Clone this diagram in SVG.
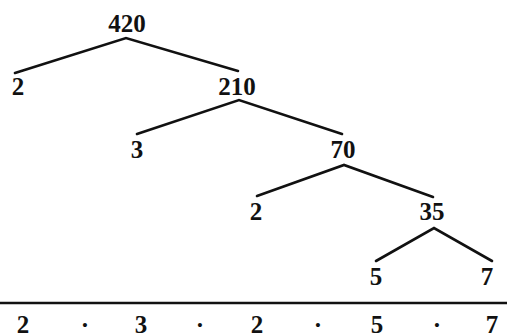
<svg xmlns="http://www.w3.org/2000/svg" width="507" height="334" viewBox="0 0 507 334">
<style>
text{font-family:"Liberation Serif","Times New Roman",serif;font-size:25px;font-weight:bold;text-anchor:middle;fill:#111}
.e{stroke:#111;stroke-width:2.6;fill:none;stroke-linecap:round}
</style>
<rect width="507" height="334" fill="#fff"/>
<g id="connectors">
<polyline class="e" points="15,73 126,38 238,71"/>
<polyline class="e" points="137,134 239,100 342,134"/>
<polyline class="e" points="257,196 344,165 433,197"/>
<polyline class="e" points="376,261 434,228 492,261"/>
<line class="e" x1="0" y1="303" x2="507" y2="303" style="stroke-linecap:butt"/>
</g>
<g id="n420"><text x="127" y="32">420</text></g>
<g id="n2a"><text x="18" y="95">2</text></g>
<g id="n210"><text x="237" y="95">210</text></g>
<g id="n3"><text x="137" y="158">3</text></g>
<g id="n70"><text x="343" y="158">70</text></g>
<g id="n2b"><text x="256" y="220">2</text></g>
<g id="n35"><text x="432" y="220">35</text></g>
<g id="n5"><text x="376" y="285">5</text></g>
<g id="n7"><text x="487" y="285">7</text></g>
<g id="result">
<text x="23" y="333">2</text>
<text x="85" y="333">·</text>
<text x="141" y="333">3</text>
<text x="200" y="333">·</text>
<text x="257" y="333">2</text>
<text x="318" y="333">·</text>
<text x="377" y="333">5</text>
<text x="437" y="333">·</text>
<text x="492" y="333">7</text>
</g>
</svg>
